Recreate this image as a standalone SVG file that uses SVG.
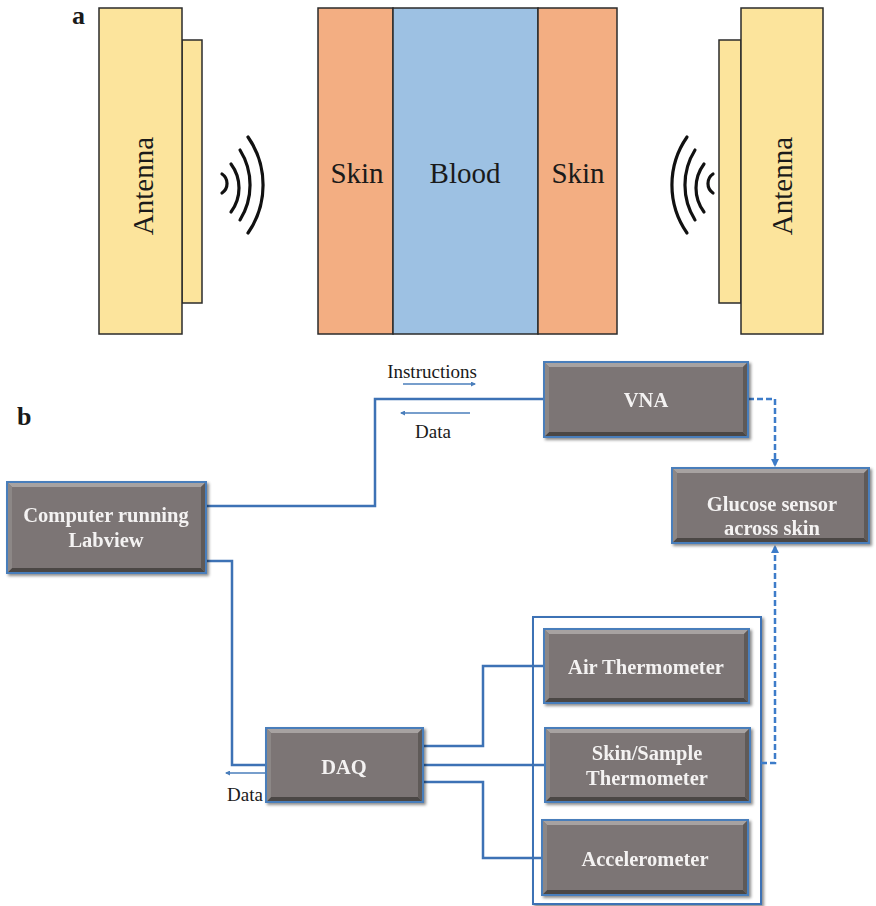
<svg xmlns="http://www.w3.org/2000/svg" width="876" height="906" viewBox="0 0 876 906">
<defs>
<style>
.ant{fill:#FCE49C;stroke:#2b2b2b;stroke-width:1.5}
.skin{fill:#F3AE82;stroke:#2b2b2b;stroke-width:1.5}
.blood{fill:#9DC1E3;stroke:#2b2b2b;stroke-width:1.5}
.wave{fill:none;stroke:#111;stroke-width:3.2;stroke-linecap:round}
.lbl{font-family:"Liberation Serif","Times New Roman",serif;fill:#1a1a1a}
.big{font-size:29px}
.bold{font-weight:bold;font-size:26px}
.small{font-size:19px}
.box{fill:#7B7574}
.bt{fill:#A7A2A1}
.bb{fill:#4B4645}
.br{fill:#5F5A59}
.bl{fill:#8C8786}
.bo{fill:none;stroke:#4A7EBB;stroke-width:2}
.bx{font-family:"Liberation Serif","Times New Roman",serif;font-weight:bold;font-size:20.5px;fill:#F4F2F2;text-anchor:middle}
.con{fill:none;stroke:#3D72B5;stroke-width:2.5}
.thin{fill:none;stroke:#4A7EBB;stroke-width:1.5}
.dash{fill:none;stroke:#3D7CC9;stroke-width:2.5;stroke-dasharray:6 3}
</style>
<marker id="ah" markerWidth="8" markerHeight="8" refX="6" refY="4" orient="auto" markerUnits="userSpaceOnUse">
<path d="M0,0 L8,4 L0,8 Z" fill="#3D7CC9"/>
</marker>
<marker id="sa" markerWidth="5" markerHeight="5" refX="4" refY="2.5" orient="auto" markerUnits="userSpaceOnUse">
<path d="M0,0 L5,2.5 L0,5 Z" fill="#4A7EBB"/>
</marker>
<filter id="sh" x="-5%" y="-5%" width="115%" height="115%">
<feDropShadow dx="2" dy="2" stdDeviation="1.5" flood-color="#000" flood-opacity="0.45"/>
</filter>
</defs>
<rect width="876" height="906" fill="#fff"/>

<!-- Part a -->
<g id="label-a"><text class="lbl bold" x="72" y="24">a</text></g>
<g id="antenna-left">
<rect class="ant" x="182" y="40" width="20" height="263"/>
<rect class="ant" x="99" y="8" width="83" height="326"/>
<text class="lbl big" transform="translate(153,186) rotate(-90)" text-anchor="middle">Antenna</text>
</g>
<g id="waves-left">
<path class="wave" d="M222,174 A11.5,11.5 0 0 1 222,193"/>
<path class="wave" d="M231,164 A40,40 0 0 1 231,212"/>
<path class="wave" d="M240,150 A66,66 0 0 1 240,220"/>
<path class="wave" d="M248,137 A84,84 0 0 1 248,233"/>
</g>
<g id="tissue">
<rect class="skin" x="318" y="8" width="75" height="326"/>
<rect class="blood" x="393" y="8" width="145" height="326"/>
<rect class="skin" x="538" y="8" width="79" height="326"/>
<text class="lbl big" x="357" y="183" text-anchor="middle">Skin</text>
<text class="lbl big" x="465" y="183" text-anchor="middle">Blood</text>
<text class="lbl big" x="578" y="183" text-anchor="middle">Skin</text>
</g>
<g id="waves-right" transform="translate(935,0) scale(-1,1)">
<path class="wave" d="M222,174 A11.5,11.5 0 0 1 222,193"/>
<path class="wave" d="M231,164 A40,40 0 0 1 231,212"/>
<path class="wave" d="M240,150 A66,66 0 0 1 240,220"/>
<path class="wave" d="M248,137 A84,84 0 0 1 248,233"/>
</g>
<g id="antenna-right">
<rect class="ant" x="719" y="40" width="22" height="263"/>
<rect class="ant" x="741" y="8" width="82" height="326"/>
<text class="lbl big" transform="translate(792,186) rotate(-90)" text-anchor="middle">Antenna</text>
</g>

<!-- Part b -->
<g id="label-b"><text class="lbl bold" x="17" y="425">b</text></g>

<g id="sensor-group">
<rect x="533" y="617" width="228" height="287" fill="#fff" stroke="#3D72B5" stroke-width="2" filter="url(#sh)"/>
</g>

<g id="connectors">
<polyline class="con" points="206,506 375,506 375,399 544,399"/>
<polyline class="con" points="206,561 232,561 232,765 266,765"/>
<polyline class="con" points="423,746 483,746 483,666 544,666"/>
<polyline class="con" points="423,765 545,765"/>
<polyline class="con" points="423,782 483,782 483,858 542,858"/>
<polyline class="dash" points="748,399 775,399 775,465" marker-end="url(#ah)"/>
<polyline class="dash" points="761,763 775,763 775,547" marker-end="url(#ah)"/>
<line class="thin" x1="403" y1="384" x2="475" y2="384" marker-end="url(#sa)"/>
<line class="thin" x1="470" y1="413" x2="401" y2="413" marker-end="url(#sa)"/>
<line class="thin" x1="266" y1="773" x2="226" y2="773" marker-end="url(#sa)"/>
<text class="lbl small" x="432" y="378" text-anchor="middle">Instructions</text>
<text class="lbl small" x="433" y="438" text-anchor="middle">Data</text>
<text class="lbl small" x="245" y="801" text-anchor="middle">Data</text>
</g>

<g id="computer" filter="url(#sh)">
<rect class="box" x="7" y="482" width="199" height="91"/>
<polygon class="bt" points="7,482 206,482 201,487 12,487"/>
<polygon class="bb" points="7,573 206,573 201,568 12,568"/>
<polygon class="br" points="206,482 206,573 201,568 201,487"/>
<polygon class="bl" points="7,482 7,573 12,568 12,487"/>
<rect class="bo" x="7" y="482" width="199" height="91"/>
<text class="bx" x="106" y="522">Computer running</text>
<text class="bx" x="106" y="547">Labview</text>
</g>

<g id="vna" filter="url(#sh)">
<rect class="box" x="544" y="362" width="204" height="75"/>
<polygon class="bt" points="544,362 748,362 743,367 549,367"/>
<polygon class="bb" points="544,437 748,437 743,432 549,432"/>
<polygon class="br" points="748,362 748,437 743,432 743,367"/>
<polygon class="bl" points="544,362 544,437 549,432 549,367"/>
<rect class="bo" x="544" y="362" width="204" height="75"/>
<text class="bx" x="646" y="407">VNA</text>
</g>

<g id="glucose" filter="url(#sh)">
<rect class="box" x="672" y="468" width="197" height="75"/>
<polygon class="bt" points="672,468 869,468 864,473 677,473"/>
<polygon class="bb" points="672,543 869,543 864,538 677,538"/>
<polygon class="br" points="869,468 869,543 864,538 864,473"/>
<polygon class="bl" points="672,468 672,543 677,538 677,473"/>
<rect class="bo" x="672" y="468" width="197" height="75"/>
<text class="bx" x="772" y="511">Glucose sensor</text>
<text class="bx" x="772" y="535">across skin</text>
</g>

<g id="daq" filter="url(#sh)">
<rect class="box" x="266" y="728" width="157" height="74"/>
<polygon class="bt" points="266,728 423,728 418,733 271,733"/>
<polygon class="bb" points="266,802 423,802 418,797 271,797"/>
<polygon class="br" points="423,728 423,802 418,797 418,733"/>
<polygon class="bl" points="266,728 266,802 271,797 271,733"/>
<rect class="bo" x="266" y="728" width="157" height="74"/>
<text class="bx" x="344" y="774">DAQ</text>
</g>

<g id="air-thermometer" filter="url(#sh)">
<rect class="box" x="544" y="629" width="205" height="74"/>
<polygon class="bt" points="544,629 749,629 744,634 549,634"/>
<polygon class="bb" points="544,703 749,703 744,698 549,698"/>
<polygon class="br" points="749,629 749,703 744,698 744,634"/>
<polygon class="bl" points="544,629 544,703 549,698 549,634"/>
<rect class="bo" x="544" y="629" width="205" height="74"/>
<text class="bx" x="646" y="674">Air Thermometer</text>
</g>

<g id="skin-thermometer" filter="url(#sh)">
<rect class="box" x="545" y="728" width="205" height="74"/>
<polygon class="bt" points="545,728 750,728 745,733 550,733"/>
<polygon class="bb" points="545,802 750,802 745,797 550,797"/>
<polygon class="br" points="750,728 750,802 745,797 745,733"/>
<polygon class="bl" points="545,728 545,802 550,797 550,733"/>
<rect class="bo" x="545" y="728" width="205" height="74"/>
<text class="bx" x="647" y="760">Skin/Sample</text>
<text class="bx" x="647" y="785">Thermometer</text>
</g>

<g id="accelerometer" filter="url(#sh)">
<rect class="box" x="542" y="820" width="206" height="75"/>
<polygon class="bt" points="542,820 748,820 743,825 547,825"/>
<polygon class="bb" points="542,895 748,895 743,890 547,890"/>
<polygon class="br" points="748,820 748,895 743,890 743,825"/>
<polygon class="bl" points="542,820 542,895 547,890 547,825"/>
<rect class="bo" x="542" y="820" width="206" height="75"/>
<text class="bx" x="645" y="866">Accelerometer</text>
</g>
</svg>
